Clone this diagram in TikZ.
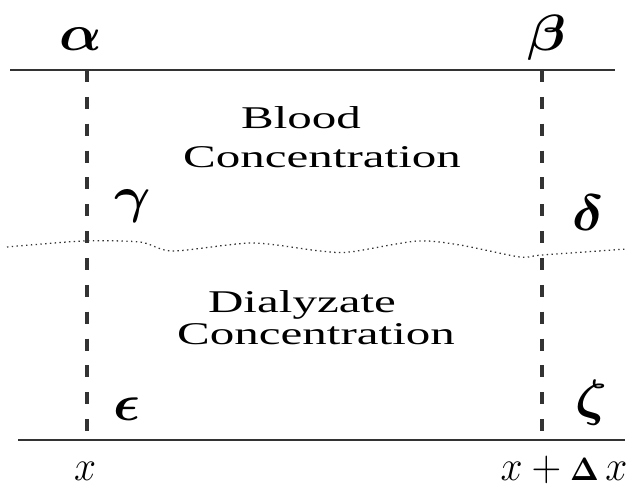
\documentclass[tikz,border=0pt]{standalone}
\usepackage{fontspec}
\setmainfont{Liberation Serif}
\usepackage{amsmath}
\begin{document}
\begin{tikzpicture}[x=0.025cm, y=-0.025cm,
        wall/.style={draw=black!80, line width=2pt},
        cut/.style={draw=black!80, line width=2.4pt, dash pattern=on 8.5pt off 10.6pt},
        skin/.style={draw=black!80, line width=0.9pt, dash pattern=on 1pt off 2.4pt},
        greek/.style={anchor=base, inner sep=0pt, font=\fontsize{18}{22}\selectfont, xscale=2.3, yscale=2.1},
        pos label/.style={anchor=base, inner sep=0pt, font=\fontsize{15}{18}\selectfont, xscale=1.95, yscale=2.1},
        region/.style={anchor=base, inner sep=0pt, font=\fontsize{22.5}{26}\selectfont, xscale=1.55}]
        	\useasboundingbox (0,0) rectangle (640,488);
        	% Walls and cuts:
        	\coordinate (top west) at (10,70);
        	\coordinate (top east) at (615,70);
        	\coordinate (bot west) at (18,440);
        	\coordinate (bot east) at (625,440);
        	\coordinate (x top) at (87,70);
        	\coordinate (x bot) at (87,440);
        	\coordinate (dx top) at (542,70);
        	\coordinate (dx bot) at (542,440);
        	\draw[wall] (top west) -- (top east);
        	\draw[wall] (bot west) -- (bot east);
        	\draw[cut] (x top) -- (x bot);
        	\draw[cut] (dx top) -- (dx bot);
        	% Membrane:
        	\draw[skin] plot[smooth, tension=0.45] coordinates {(7,247) (83,241) (140,242) (173,251) (252,243) (320,251) (350,252) (417,241) (460,245) (520,257) (542,255) (627,249)};
        	% Corner labels:
        	\node[greek] (alpha) at (81,50) {$\boldsymbol{\alpha}$};
        	\node[greek] (beta) at (547,50) {$\boldsymbol{\beta}$};
        	\node[greek] (gamma) at (133,212) {$\boldsymbol{\gamma}$};
        	\node[greek] (delta) at (588,230) {$\boldsymbol{\delta}$};
        	\node[greek] (eps) at (127,420) {$\boldsymbol{\epsilon}$};
        	\node[greek] (zeta) at (591,415) {$\boldsymbol{\zeta}$};
        	\node[pos label] (x) at (85,480) {$x$};
        	\node[pos label] (x dx) at (564,480) {$x + {\scriptstyle\boldsymbol{\Delta}}\, x$};
        	% Regions:
        	\node[region] (blood) at (301,128) {Blood};
        	\node[region] (blood conc) at (322,167) {Concentration};
        	\node[region] (dial) at (302,312) {Dialyzate};
        	\node[region] (dial conc) at (316,344) {Concentration};
        \end{tikzpicture}
\end{document}
